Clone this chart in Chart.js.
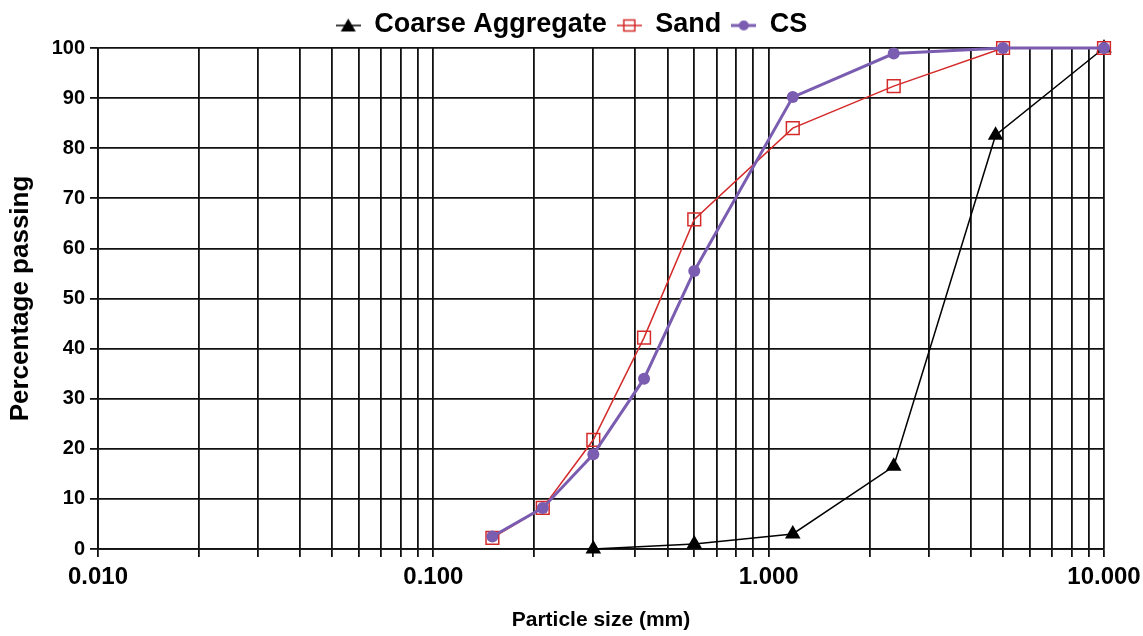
<!DOCTYPE html>
<html lang="en">
<head>
    <meta charset="UTF-8">
    <title>Particle Size Distribution</title>
    <script src="https://cdn.jsdelivr.net/npm/chart.js"></script>
    <style>
        html, body {
            margin: 0;
            padding: 0;
            background: #ffffff;
            overflow: hidden;
        }
        #chart-container {
            width: 1143px;
            height: 636px;
        }
    </style>
</head>
<body>

<div id="chart-container">
    <canvas id="gradingChart" width="1143" height="636"></canvas>
</div>

<script>
    // Sieve sizes (mm) and percentage passing for each material
    const fineSizes = [0.15, 0.212, 0.3, 0.425, 0.6, 1.18, 2.36, 5, 10];
    const sandPassing = [2.2, 8.2, 21.8, 42.2, 65.8, 84, 92.4, 100, 100];
    const csPassing = [2.5, 8.2, 18.9, 34, 55.5, 90.2, 98.9, 100, 100];

    const coarseSizes = [0.3, 0.6, 1.18, 2.36, 4.75, 10];
    const coarsePassing = [0, 1, 3, 16.5, 82.6, 100];

    const xDecades = [0.01, 0.1, 1, 10];
    const yTicks = [0, 10, 20, 30, 40, 50, 60, 70, 80, 90, 100];

    const RED = '#d42a2a';
    const PURPLE = '#7a5cb0';
    const GRID = '#111';
    const FONT = '"Liberation Sans", Arial, sans-serif';

    const toPoints = (xs, ys) => xs.map((x, i) => ({ x: x, y: ys[i] }));

    // small legend glyph: a line through the marker
    function legendGlyph(color, lineWidth, drawMarker) {
        const c = document.createElement('canvas');
        c.width = 25;
        c.height = 18;
        const g = c.getContext('2d');
        g.strokeStyle = color;
        g.lineWidth = lineWidth;
        g.beginPath();
        g.moveTo(0, 10);
        g.lineTo(25, 10);
        g.stroke();
        drawMarker(g);
        return c;
    }

    const caGlyph = legendGlyph('#000', 1.5, g => {
        g.fillStyle = '#000';
        g.beginPath();
        g.moveTo(12.5, 3);
        g.lineTo(20, 16);
        g.lineTo(5, 16);
        g.closePath();
        g.fill();
    });
    const sandGlyph = legendGlyph(RED, 1.5, g => {
        g.strokeStyle = RED;
        g.lineWidth = 1.5;
        g.strokeRect(7, 4.5, 11, 11);
    });
    const csGlyph = legendGlyph(PURPLE, 3, g => {
        g.fillStyle = PURPLE;
        g.beginPath();
        g.arc(12.5, 10, 5, 0, Math.PI * 2);
        g.fill();
    });

    // gridlines at 1..9 x each decade
    const logGridValues = [];
    xDecades.forEach((d, i) => {
        if (i === xDecades.length - 1) {
            logGridValues.push(d);
            return;
        }
        for (let m = 1; m <= 9; m++) logGridValues.push(+(m * d).toPrecision(3));
    });

    const ctx = document.getElementById('gradingChart').getContext('2d');

    new Chart(ctx, {
        type: 'line',
        data: {
            datasets: [
                {
                    label: 'Coarse Aggregate',
                    data: toPoints(coarseSizes, coarsePassing),
                    borderColor: '#000',
                    backgroundColor: '#000',
                    borderWidth: 1.5,
                    pointStyle: 'triangle',
                    pointRadius: 9,
                    pointBorderWidth: 0,
                    clip: false,
                    order: 3
                },
                {
                    label: 'Sand',
                    data: toPoints(fineSizes, sandPassing),
                    borderColor: RED,
                    backgroundColor: 'rgba(0,0,0,0)',
                    borderWidth: 1.5,
                    pointStyle: 'rect',
                    pointRadius: 9,
                    pointBorderWidth: 1.5,
                    pointBorderColor: RED,
                    clip: false,
                    order: 2
                },
                {
                    label: 'CS',
                    data: toPoints(fineSizes, csPassing),
                    borderColor: PURPLE,
                    backgroundColor: PURPLE,
                    borderWidth: 3,
                    pointStyle: 'circle',
                    pointRadius: 6,
                    pointBorderWidth: 0,
                    clip: false,
                    order: 1
                }
            ]
        },
        options: {
            responsive: false,
            animation: false,
            maintainAspectRatio: false,
            layout: {
                padding: { left: 0, right: 0, top: 1, bottom: 0 }
            },
            plugins: {
                tooltip: { enabled: false },
                legend: {
                    position: 'top',
                    labels: {
                        usePointStyle: true,
                        pointStyleWidth: 25,
                        boxHeight: 18,
                        padding: 10,
                        color: '#000',
                        font: { family: FONT, size: 27, weight: 'bold', lineHeight: '32px' },
                        generateLabels: chart => {
                            const glyphs = [caGlyph, sandGlyph, csGlyph];
                            return chart.data.datasets.map((ds, i) => ({
                                text: ds.label,
                                pointStyle: glyphs[i],
                                fillStyle: ds.borderColor,
                                strokeStyle: ds.borderColor,
                                lineWidth: 0,
                                fontColor: '#000',
                                hidden: false,
                                datasetIndex: i
                            }));
                        }
                    }
                }
            },
            scales: {
                x: {
                    type: 'logarithmic',
                    min: 0.01,
                    max: 10,
                    afterBuildTicks: scale => {
                        scale.ticks = logGridValues.map(v => ({ value: v }));
                    },
                    afterFit: scale => {
                        scale.height = 87;
                        scale.paddingLeft = 0;
                        scale.paddingRight = 39;
                    },
                    grid: {
                        color: GRID,
                        lineWidth: 1.8,
                        tickLength: 8,
                        drawOnChartArea: true
                    },
                    border: { color: GRID, width: 1.8 },
                    ticks: {
                        autoSkip: false,
                        maxRotation: 0,
                        padding: 6,
                        color: '#000',
                        font: { family: FONT, size: 24, weight: 'bold' },
                        callback: value => xDecades.includes(value) ? value.toFixed(3) : ''
                    },
                    title: {
                        display: true,
                        text: 'Particle size (mm)',
                        color: '#000',
                        padding: { top: 0, bottom: 3 },
                        font: { family: FONT, size: 21, weight: 'bold' }
                    }
                },
                y: {
                    min: 0,
                    max: 100,
                    afterBuildTicks: scale => {
                        scale.ticks = yTicks.map(v => ({ value: v }));
                    },
                    afterFit: scale => {
                        scale.width = 98;
                    },
                    grid: {
                        color: GRID,
                        lineWidth: 1.8,
                        tickLength: 8
                    },
                    border: { color: GRID, width: 1.8 },
                    ticks: {
                        padding: 5,
                        color: '#000',
                        font: { family: FONT, size: 20, weight: 'bold' }
                    },
                    title: {
                        display: true,
                        text: 'Percentage passing',
                        color: '#000',
                        padding: { top: 5, bottom: 0 },
                        font: { family: FONT, size: 26, weight: 'bold' }
                    }
                }
            }
        }
    });
</script>

</body>
</html>
